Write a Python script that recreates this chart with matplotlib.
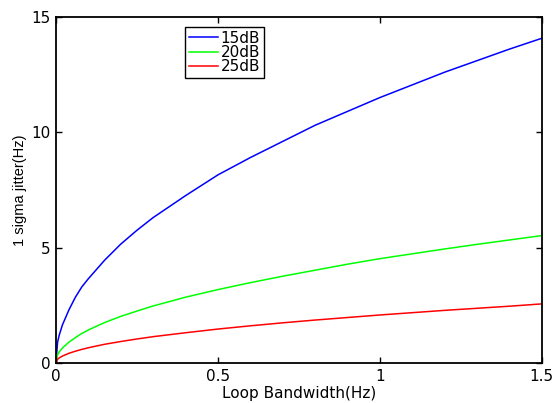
import matplotlib
matplotlib.use("Agg")
import matplotlib.pyplot as plt

# Loop bandwidth (Hz) and 1-sigma jitter (Hz) for three C/N0 levels
bandwidth = [0, 0.005, 0.01, 0.02, 0.04, 0.06, 0.08, 0.1, 0.15, 0.2, 0.25, 0.3,
             0.4, 0.5, 0.6, 0.7, 0.8, 0.9, 1.0, 1.1, 1.2, 1.3, 1.4, 1.5]
jitter_15db = [0, 0.9, 1.2, 1.65, 2.3, 2.85, 3.3, 3.65, 4.45, 5.15, 5.75, 6.3,
               7.25, 8.15, 8.9, 9.6, 10.3, 10.9, 11.5, 12.05, 12.6, 13.1, 13.6, 14.07]
jitter_20db = [0, 0.35, 0.48, 0.65, 0.9, 1.1, 1.28, 1.43, 1.75, 2.02, 2.25, 2.47,
               2.85, 3.18, 3.48, 3.76, 4.02, 4.28, 4.52, 4.73, 4.94, 5.14, 5.33, 5.52]
jitter_25db = [0, 0.16, 0.22, 0.3, 0.42, 0.51, 0.59, 0.66, 0.81, 0.93, 1.04, 1.14,
               1.31, 1.47, 1.61, 1.74, 1.86, 1.97, 2.08, 2.18, 2.28, 2.37, 2.46, 2.56]
labels = ["15dB", "20dB", "25dB"]
x_ticks = [0, 0.5, 1, 1.5]
y_ticks = [0, 5, 10, 15]

plt.rcParams['font.family'] = ['DejaVu Sans']

fig = plt.figure(figsize=(5.54, 4.03), dpi=100)
ax = fig.add_axes([0.101, 0.0993, 0.877, 0.859])

ax.plot(bandwidth, jitter_15db, color=(0, 0, 1), lw=1.1, label=labels[0])
ax.plot(bandwidth, jitter_20db, color=(0, 1, 0), lw=1.1, label=labels[1])
ax.plot(bandwidth, jitter_25db, color=(1, 0, 0), lw=1.1, label=labels[2])

ax.set_xlim(0, 1.5)
ax.set_ylim(0, 15)
ax.set_xticks(x_ticks)
ax.set_xticklabels(["0", "0.5", "1", "1.5"])
ax.set_yticks(y_ticks)
ax.tick_params(direction='in', top=True, right=True, length=4, width=1,
               labelsize=11, pad=4)
for s in ax.spines.values():
    s.set_linewidth(1.3)

ax.set_xlabel("Loop Bandwidth(Hz)", fontsize=11, labelpad=2)
ax.set_ylabel("1 sigma jitter(Hz)", fontsize=10.5, labelpad=3,
              family=['Liberation Sans'])

leg = ax.legend(loc='upper left', bbox_to_anchor=(0.265, 0.971), borderaxespad=0,
                fontsize=11, frameon=True, fancybox=False, framealpha=1,
                edgecolor='black', handlelength=1.9, handletextpad=0.2,
                labelspacing=-0.05, borderpad=0.25)
leg.get_frame().set_linewidth(1.0)

fig.savefig("out.png", dpi=100)
